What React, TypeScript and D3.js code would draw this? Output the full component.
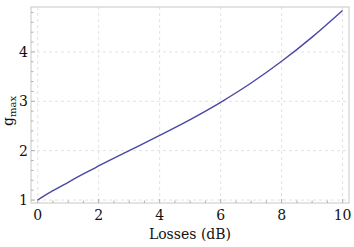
import React, { useEffect, useRef } from "react";
import * as d3 from "d3";

// values
const losses = [0, 0.25, 0.5, 1, 1.5, 2, 3, 4, 5, 6, 7, 8, 9, 10];
const gmax = [1.0, 1.1, 1.19, 1.36, 1.53, 1.69, 2.0, 2.31, 2.63, 2.98, 3.37, 3.81, 4.3, 4.84];
const xTicks = [0, 2, 4, 6, 8, 10];
const yTicks = [1, 2, 3, 4];

const W = 354, H = 247;
const frame = { left: 31, right: 349, top: 7, bottom: 203 };

export default function App() {
  const ref = useRef<SVGSVGElement>(null);

  useEffect(() => {
    const svg = d3.select(ref.current);
    svg.selectAll("*").remove();

    const x = d3.scaleLinear().domain([-0.22, 10.21]).range([frame.left, frame.right]);
    const y = d3.scaleLinear().domain([0.94, 4.91]).range([frame.bottom, frame.top]);
    const font = "'DejaVu Serif', serif";

    // gridlines
    const grid = svg.append("g").attr("stroke", "#e2e2e2").attr("stroke-dasharray", "3,3").attr("stroke-width", 1);
    xTicks.forEach(t => {
      grid.append("line").attr("x1", x(t)).attr("x2", x(t)).attr("y1", frame.top).attr("y2", frame.bottom);
    });
    yTicks.forEach(t => {
      grid.append("line").attr("x1", frame.left).attr("x2", frame.right).attr("y1", y(t)).attr("y2", y(t));
    });

    // frame
    svg.append("rect")
      .attr("x", frame.left).attr("y", frame.top)
      .attr("width", frame.right - frame.left).attr("height", frame.bottom - frame.top)
      .attr("fill", "none").attr("stroke", "#c8c8c8").attr("stroke-width", 1);

    // tick marks pointing inside
    const ticks = svg.append("g").attr("stroke", "#b0b0b0").attr("stroke-width", 1);
    d3.range(0, 10.01, 0.5).forEach(t => {
      const major = Math.abs(t % 2) < 1e-6;
      const len = major ? 4 : 2.5;
      ticks.append("line").attr("x1", x(t)).attr("x2", x(t)).attr("y1", frame.bottom).attr("y2", frame.bottom - len);
    });
    d3.range(1, 4.91, 0.2).forEach(t => {
      const major = Math.abs(t - Math.round(t)) < 1e-6;
      const len = major ? 4 : 2.5;
      ticks.append("line").attr("x1", frame.left).attr("x2", frame.left + len).attr("y1", y(t)).attr("y2", y(t));
    });

    // tick labels
    svg.append("g").selectAll("text").data(xTicks).join("text")
      .attr("x", d => x(d)).attr("y", 220)
      .attr("text-anchor", "middle")
      .style("font-family", font).attr("font-size", 14).attr("fill", "#111")
      .text(d => d);
    svg.append("g").selectAll("text").data(yTicks).join("text")
      .attr("x", 28).attr("y", d => y(d) + 5)
      .attr("text-anchor", "end")
      .style("font-family", font).attr("font-size", 14).attr("fill", "#111")
      .text(d => d);

    // axis labels
    svg.append("text")
      .attr("x", 190).attr("y", 239)
      .attr("text-anchor", "middle")
      .style("font-family", font).attr("font-size", 14).attr("fill", "#111")
      .text("Losses (dB)");
    const yl = svg.append("text")
      .attr("transform", "translate(13,111) rotate(-90)")
      .attr("text-anchor", "middle")
      .style("font-family", font).attr("font-size", 14).attr("fill", "#111");
    yl.append("tspan").text("g");
    yl.append("tspan").attr("font-size", 10).attr("dy", 3).text("max");

    // curve
    const line = d3.line<number>()
      .x((d, i) => x(losses[i]))
      .y(d => y(d))
      .curve(d3.curveMonotoneX);
    svg.append("path")
      .attr("d", line(gmax))
      .attr("fill", "none")
      .attr("stroke", "#4a47a3")
      .attr("stroke-width", 1.4);
  }, []);

  return (
    <svg ref={ref} width={W} height={H}
      style={{ position: "absolute", left: 0, top: 0, background: "#fff" }} />
  );
}
